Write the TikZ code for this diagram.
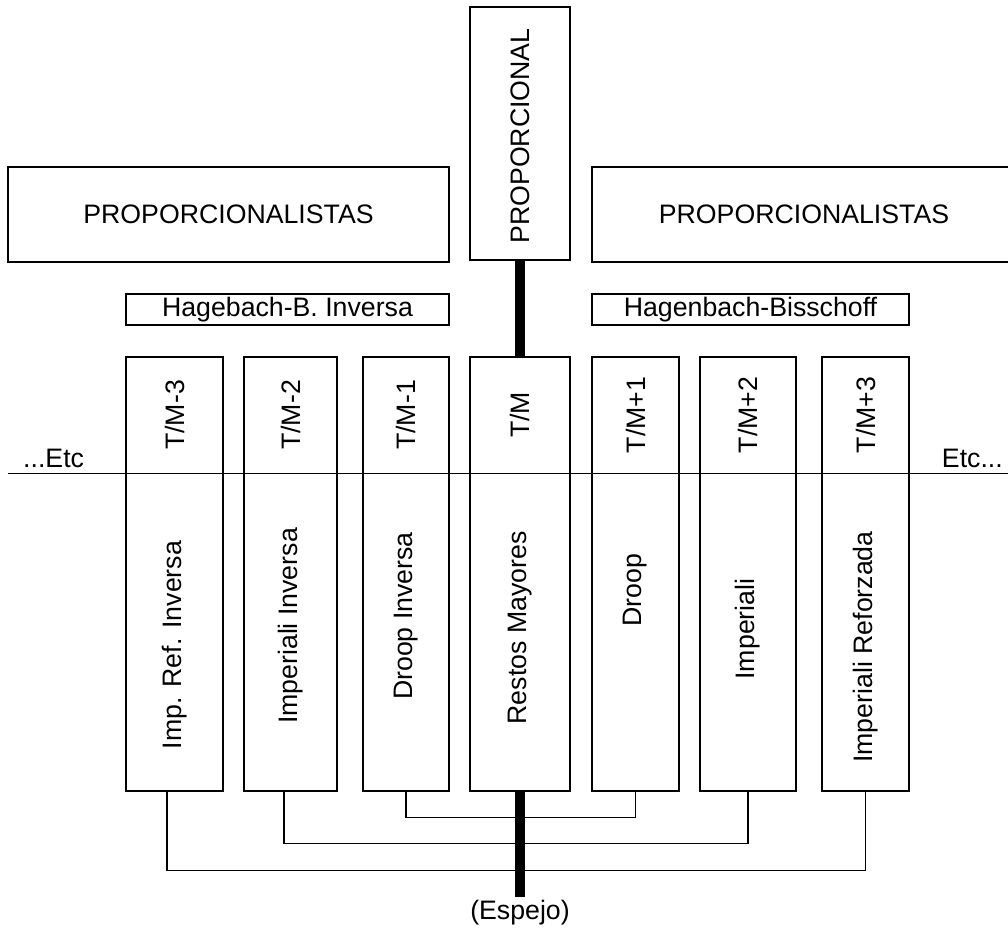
\documentclass[tikz,border=0pt]{standalone}
\usepackage{fontspec}
\setmainfont{Liberation Sans}
\begin{document}
\begin{tikzpicture}[x=1pt,y=-1pt,
  box/.style={draw, line width=1.4pt, inner sep=0pt},
  lbl/.style={font=\fontsize{26.7}{30}\selectfont, inner sep=0pt},
  vlbl/.style={lbl, rotate=90},
  conn/.style={line width=1.3pt},
  spine/.style={line width=9.5pt},
  axisline/.style={line width=1pt}]
\clip (0,0) rectangle (1008,929);
\useasboundingbox (0,0) rectangle (1008,929);

% top boxes
\node[box, minimum width=441pt, minimum height=95pt, lbl] (pl) at (228.5,214.5) {PROPORCIONALISTAS};
\node[box, minimum width=424pt, minimum height=95pt, lbl] (pr) at (804,214.5) {PROPORCIONALISTAS};
\node[box, minimum width=100pt, minimum height=253pt] (prop) at (520,133.5) {};
\node[vlbl] (proplbl) at (520,136) {PROPORCIONAL};

\node[box, minimum width=323pt, minimum height=31pt, lbl] (hbi) at (287.5,309.5) {Hagebach-B. Inversa};
\node[box, minimum width=317pt, minimum height=31pt, lbl] (hb) at (750.5,309.5) {Hagenbach-Bisschoff};

% columns
\node[box, minimum width=97pt, minimum height=434pt] (c1) at (174.5,574) {};
\node[box, minimum width=93pt, minimum height=434pt] (c2) at (290.5,574) {};
\node[box, minimum width=86pt, minimum height=434pt] (c3) at (406,574) {};
\node[box, minimum width=100pt, minimum height=434pt] (c4) at (520,574) {};
\node[box, minimum width=87pt, minimum height=434pt] (c5) at (635.5,574) {};
\node[box, minimum width=96pt, minimum height=434pt] (c6) at (748,574) {};
\node[box, minimum width=87pt, minimum height=434pt] (c7) at (865.5,574) {};

% upper labels
\node[vlbl] (u1) at (174.5,415) {T/M-3};
\node[vlbl] (u2) at (290.5,415) {T/M-2};
\node[vlbl] (u3) at (406,415) {T/M-1};
\node[vlbl] (u4) at (520,415) {T/M};
\node[vlbl] (u5) at (635.5,415) {T/M+1};
\node[vlbl] (u6) at (748,415) {T/M+2};
\node[vlbl] (u7) at (865.5,415) {T/M+3};

% lower labels
\node[vlbl] (l1) at (174.5,645) {Imp. Ref. Inversa};
\node[vlbl] (l2) at (290.5,626) {Imperiali Inversa};
\node[vlbl] (l3) at (406,616) {Droop Inversa};
\node[vlbl] (l4) at (520,628) {Restos Mayores};
\node[vlbl] (l5) at (635.5,590) {Droop};
\node[vlbl] (l6) at (748,629) {Imperiali};
\node[vlbl] (l7) at (865.5,647) {Imperiali Reforzada};

% horizontal axis
\coordinate (hl) at (8,473);
\coordinate (hr) at (1008,473);
\draw[axisline] (hl) -- (hr);
\node[lbl, anchor=base west] (etcl) at (23,467) {...Etc};
\node[lbl, anchor=base east] (etcr) at (1003,467) {Etc...};

% spine
\draw[spine] (prop.south) -- (c4.north);
\coordinate (spend) at (520,897);
\draw[spine] (c4.south) -- (spend);
\node[lbl] (esp) at (520,913) {(Espejo)};

% connectors
\draw[conn] (c3.south) -- ++(0,26) -| (c5.south);
\draw[conn] ([xshift=-6.5pt]c2.south) -- ++(0,52) -| (c6.south);
\draw[conn] ([xshift=-7.5pt]c1.south) -- ++(0,79) -| (c7.south);
\end{tikzpicture}
\end{document}
